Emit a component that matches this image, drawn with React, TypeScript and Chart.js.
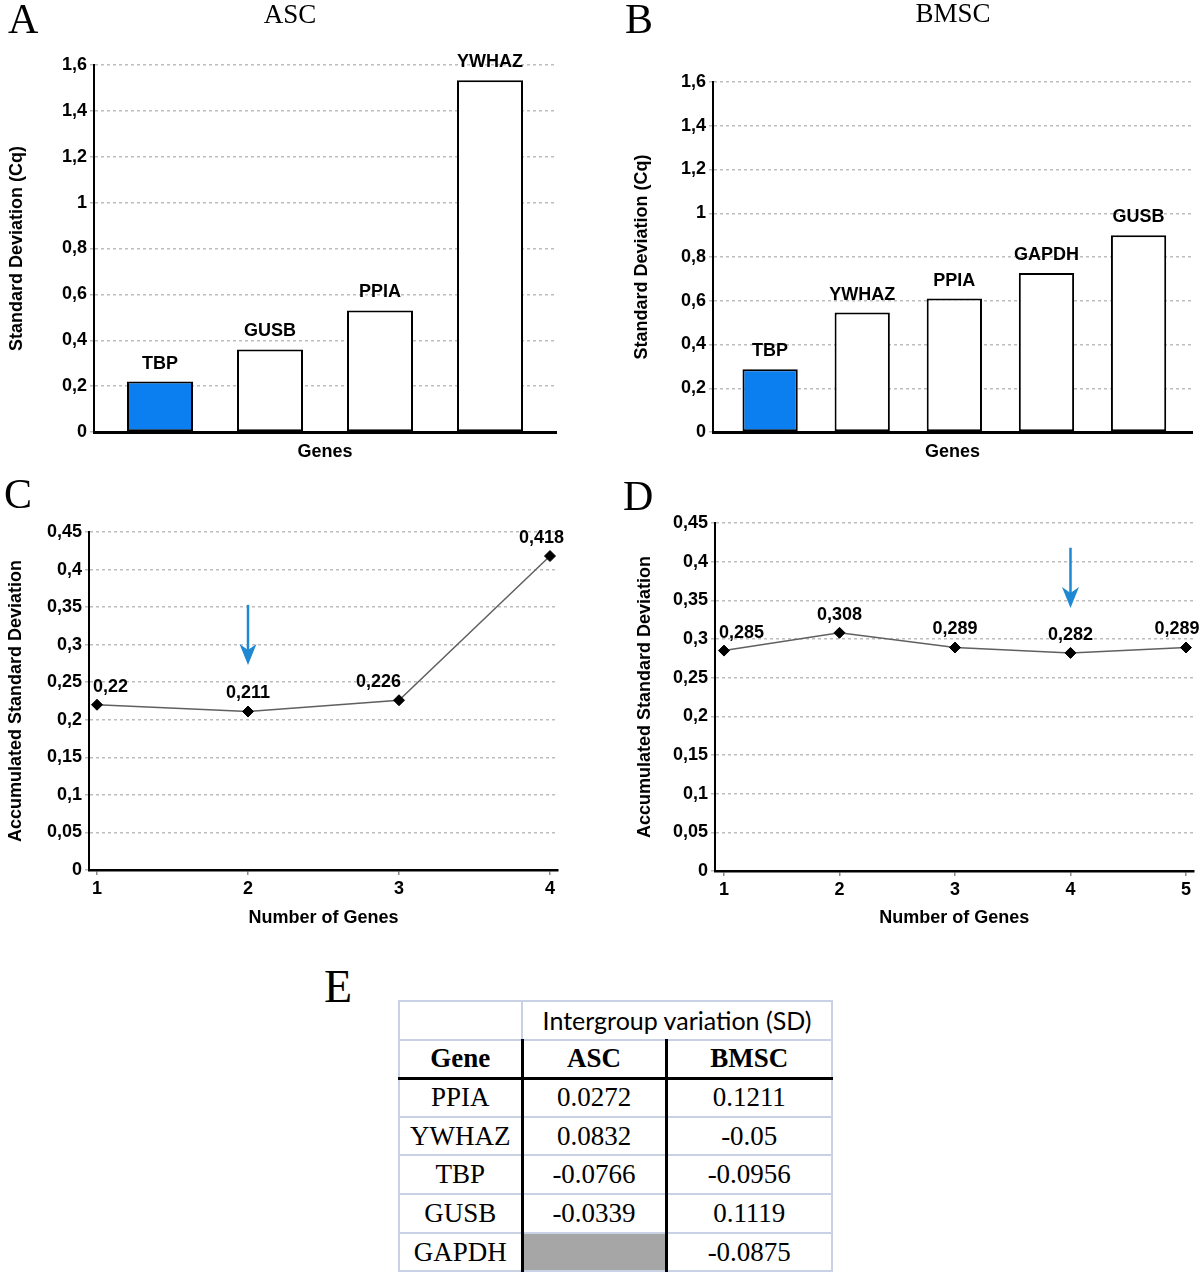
import React, { useEffect, useRef } from 'react';
import { Chart, registerables } from 'chart.js';

Chart.register(...registerables);

// ---------- DATA ----------
const ascGenes = ['TBP', 'GUSB', 'PPIA', 'YWHAZ'];
const ascSD = [0.22, 0.36, 0.53, 1.533];
const bmscGenes = ['TBP', 'YWHAZ', 'PPIA', 'GAPDH', 'GUSB'];
const bmscSD = [0.287, 0.546, 0.61, 0.727, 0.9];
const highlightGene = 'TBP';

const sdTickValues = [0, 0.2, 0.4, 0.6, 0.8, 1, 1.2, 1.4, 1.6];
const sdTickLabels = ['0', '0,2', '0,4', '0,6', '0,8', '1', '1,2', '1,4', '1,6'];

const ascNumGenes = [1, 2, 3, 4];
const ascAccSD = [0.22, 0.211, 0.226, 0.418];
const bmscNumGenes = [1, 2, 3, 4, 5];
const bmscAccSD = [0.285, 0.308, 0.289, 0.282, 0.289];

const accTickValues = [0, 0.05, 0.1, 0.15, 0.2, 0.25, 0.3, 0.35, 0.4, 0.45];
const accTickLabels = ['0', '0,05', '0,1', '0,15', '0,2', '0,25', '0,3', '0,35', '0,4', '0,45'];

// arrows marking the optimal number of genes: [numGenes, fromValue, toValue]
const ascArrow = [2, 0.353, 0.273];
const bmscArrow = [4, 0.418, 0.34];

const tableGenes = ['PPIA', 'YWHAZ', 'TBP', 'GUSB', 'GAPDH'];
const tableASC = ['0.0272', '0.0832', '-0.0766', '-0.0339', null];
const tableBMSC = ['0.1211', '-0.05', '-0.0956', '0.1119', '-0.0875'];

// ---------- STYLE ----------
const SANS = "'Liberation Sans', Arial, sans-serif";
const SERIF = "'Liberation Serif', 'Times New Roman', serif";
const BLUE = '#0b7ff0';
const ARROW = '#1e88d2';
const GRID = '#bdbdbd';
const TICK_FONT = { family: SANS, size: 18, weight: 'bold' as const };
const TITLE_FONT = { family: SANS, size: 18, weight: 'bold' as const };
const LABEL_FONT = `bold 18px ${SANS}`;

const fmt = (v: number) => String(v).replace('.', ',');

const barLabelPlugin = (genes: string[]) => ({
  id: 'barLabels',
  afterDatasetsDraw(chart: any) {
    const ctx = chart.ctx;
    const meta = chart.getDatasetMeta(0);
    ctx.save();
    ctx.font = LABEL_FONT;
    ctx.fillStyle = '#000';
    ctx.textAlign = 'center';
    ctx.textBaseline = 'middle';
    meta.data.forEach((bar: any, i: number) => {
      ctx.fillText(genes[i], bar.x, bar.y - 18);
    });
    ctx.restore();
  },
});

const lineLabelPlugin = (values: number[]) => ({
  id: 'lineLabels',
  afterDatasetsDraw(chart: any) {
    const ctx = chart.ctx;
    const meta = chart.getDatasetMeta(0);
    const area = chart.chartArea;
    ctx.save();
    ctx.font = LABEL_FONT;
    ctx.fillStyle = '#000';
    ctx.textAlign = 'left';
    ctx.textBaseline = 'middle';
    meta.data.forEach((pt: any, i: number) => {
      const text = fmt(values[i]);
      const w = ctx.measureText(text).width;
      let left = pt.x - w / 2;
      const next = meta.data[i + 1];
      if (next && pt.y - next.y > 40) left = pt.x + 2 - w;
      left = Math.max(left, area.left + 4);
      left = Math.min(left, area.right + 6 - w);
      ctx.fillText(text, left, pt.y - 18);
    });
    ctx.restore();
  },
});

const arrowPlugin = (arrow: number[]) => ({
  id: 'arrow',
  afterDatasetsDraw(chart: any) {
    const { ctx, scales } = chart;
    const px = scales.x.getPixelForValue(arrow[0]);
    const y1 = scales.y.getPixelForValue(arrow[1]);
    const y2 = scales.y.getPixelForValue(arrow[2]);
    const headH = 21;
    const headW = 8.5;
    ctx.save();
    ctx.strokeStyle = ARROW;
    ctx.fillStyle = ARROW;
    ctx.lineWidth = 2.5;
    ctx.beginPath();
    ctx.moveTo(px, y1);
    ctx.lineTo(px, y2 - headH + 6);
    ctx.stroke();
    ctx.beginPath();
    ctx.moveTo(px, y2);
    ctx.lineTo(px - headW, y2 - headH);
    ctx.lineTo(px, y2 - headH + 6);
    ctx.lineTo(px + headW, y2 - headH);
    ctx.closePath();
    ctx.fill();
    ctx.restore();
  },
});

type Geo = {
  padTop: number; padRight: number; yWidth: number; xHeight: number;
  yTitlePad: number; xTitlePad: number; xMin: number; xMax: number;
};

function yAxis(tickValues: number[], tickLabels: string[], max: number, title: string, g: Geo) {
  return {
    min: 0,
    max,
    afterBuildTicks: (s: any) => { s.ticks = tickValues.map((v) => ({ value: v })); },
    afterFit: (s: any) => { s.width = g.yWidth; },
    ticks: { callback: (_v: any, i: number) => tickLabels[i], font: TICK_FONT, color: '#000', padding: 3 },
    grid: { color: GRID, lineWidth: 1.5, tickLength: 4 },
    border: { display: true, color: '#000', width: 2, dash: [3, 3] },
    title: { display: true, text: title, font: TITLE_FONT, color: '#000', padding: { top: g.yTitlePad, bottom: 0 } },
  };
}

function barConfig(genes: string[], values: number[], g: Geo): any {
  const xs = genes.map((_n, i) => i + 1);
  return {
    type: 'bar',
    data: {
      datasets: [{
        data: xs.map((x, i) => ({ x, y: values[i] })),
        backgroundColor: genes.map((n) => (n === highlightGene ? BLUE : '#ffffff')),
        borderColor: '#000',
        borderWidth: 2,
        borderSkipped: false,
        barPercentage: 0.6,
        categoryPercentage: 1,
      }],
    },
    options: {
      responsive: false,
      maintainAspectRatio: false,
      animation: false,
      layout: { padding: { left: 0, right: g.padRight, top: g.padTop, bottom: 0 } },
      plugins: { legend: { display: false }, tooltip: { enabled: false } },
      scales: {
        x: {
          type: 'linear', min: g.xMin, max: g.xMax, offset: false,
          afterBuildTicks: (s: any) => { s.ticks = xs.map((v) => ({ value: v })); },
          afterFit: (s: any) => { s.height = g.xHeight; },
          grid: { display: false },
          ticks: { display: false },
          border: { display: true, color: '#000', width: 3 },
          title: { display: true, text: 'Genes', font: TITLE_FONT, color: '#000', padding: { top: 0, bottom: g.xTitlePad } },
        },
        y: yAxis(sdTickValues, sdTickLabels, 1.6, 'Standard Deviation (Cq)', g),
      },
    },
    plugins: [barLabelPlugin(genes)],
  };
}

function lineConfig(xs: number[], values: number[], arrow: number[], g: Geo): any {
  return {
    type: 'line',
    data: {
      datasets: [{
        data: xs.map((x, i) => ({ x, y: values[i] })),
        borderColor: '#606060',
        borderWidth: 1.5,
        pointStyle: 'rectRot',
        pointRadius: 5.5,
        pointBackgroundColor: '#000',
        pointBorderColor: '#000',
        pointBorderWidth: 1,
        tension: 0,
      }],
    },
    options: {
      responsive: false,
      maintainAspectRatio: false,
      animation: false,
      layout: { padding: { left: 0, right: g.padRight, top: g.padTop, bottom: 0 } },
      plugins: { legend: { display: false }, tooltip: { enabled: false } },
      scales: {
        x: {
          type: 'linear', min: g.xMin, max: g.xMax, offset: false,
          afterBuildTicks: (s: any) => { s.ticks = xs.map((v) => ({ value: v })); },
          afterFit: (s: any) => { s.height = g.xHeight; },
          ticks: { font: TICK_FONT, color: '#000', padding: 3 },
          grid: { display: true, drawOnChartArea: false, drawTicks: true, tickLength: 5, color: '#8a8a8a', lineWidth: 1.5 },
          border: { display: true, color: '#000', width: 2.5 },
          title: { display: true, text: 'Number of Genes', font: TITLE_FONT, color: '#000', padding: { top: 0, bottom: g.xTitlePad } },
        },
        y: yAxis(accTickValues, accTickLabels, 0.45, 'Accumulated Standard Deviation', g),
      },
    },
    plugins: [lineLabelPlugin(values), arrowPlugin(arrow)],
  };
}

function ChartCanvas({ left, top, w, h, config }: { left: number; top: number; w: number; h: number; config: () => any }) {
  const ref = useRef<HTMLCanvasElement>(null);
  useEffect(() => {
    const chart = new Chart(ref.current as HTMLCanvasElement, config());
    return () => chart.destroy();
  }, []);
  return (
    <canvas ref={ref} width={w} height={h}
      style={{ position: 'absolute', left, top, width: w, height: h }} />
  );
}

function Txt({ x, y, size, children, w, bold }: any) {
  const style: React.CSSProperties = {
    position: 'absolute', left: w ? x - w / 2 : x, top: y, width: w || undefined,
    textAlign: w ? 'center' : 'left', fontFamily: SERIF, fontSize: size, lineHeight: `${size}px`,
    fontWeight: bold ? 'bold' : 'normal', color: '#000', whiteSpace: 'nowrap',
  };
  return <div style={style}>{children}</div>;
}

const LIGHT = '2px solid #c8d2e4';
const DARK = '3px solid #000';

function SDTable() {
  const rowH = [39, 38, 39, 38, 39, 39, 38];
  const colW = [123, 144, 166];
  const base: React.CSSProperties = {
    padding: 0, textAlign: 'center', verticalAlign: 'middle', fontFamily: SERIF, fontSize: 27,
    color: '#000', border: LIGHT, lineHeight: 1,
  };
  return (
    <table style={{ position: 'absolute', left: 398, top: 1000, borderCollapse: 'collapse', tableLayout: 'fixed', width: colW.reduce((a, b) => a + b, 0) }}>
      <colgroup>{colW.map((c, i) => <col key={i} style={{ width: c }} />)}</colgroup>
      <tbody>
        <tr style={{ height: rowH[0] }}>
          <td style={base}></td>
          <td colSpan={2} style={{ ...base, fontFamily: "Lato, 'Open Sans', sans-serif", fontSize: 25 }}>Intergroup variation (SD)</td>
        </tr>
        <tr style={{ height: rowH[1] }}>
          <td style={{ ...base, fontWeight: 'bold', borderBottom: DARK, borderRight: DARK }}>Gene</td>
          <td style={{ ...base, fontWeight: 'bold', borderBottom: DARK, borderRight: DARK }}>ASC</td>
          <td style={{ ...base, fontWeight: 'bold', borderBottom: DARK }}>BMSC</td>
        </tr>
        {tableGenes.map((g, i) => (
          <tr key={g} style={{ height: rowH[i + 2] }}>
            <td style={{ ...base, borderRight: DARK }}>{g}</td>
            <td style={{ ...base, borderRight: DARK, background: tableASC[i] === null ? '#a6a6a6' : '#fff' }}>{tableASC[i] ?? ''}</td>
            <td style={base}>{tableBMSC[i]}</td>
          </tr>
        ))}
      </tbody>
    </table>
  );
}

export default function App() {
  const geoA: Geo = { padTop: 65, padRight: 44, yWidth: 94, xHeight: 48, yTitlePad: 6.7, xTitlePad: 17.2, xMin: 0.4, xMax: 4.6 };
  const geoB: Geo = { padTop: 82, padRight: 8, yWidth: 113, xHeight: 48, yTitlePad: 31.2, xTitlePad: 17.2, xMin: 0.38, xMax: 5.58 };
  const geoC: Geo = { padTop: 52, padRight: 42, yWidth: 89, xHeight: 70, yTitlePad: 5.7, xTitlePad: 11.2, xMin: 0.947, xMax: 4.053 };
  const geoD: Geo = { padTop: 43, padRight: 6, yWidth: 115, xHeight: 69, yTitlePad: 34.2, xTitlePad: 11.2, xMin: 0.922, xMax: 5.065 };
  Chart.defaults.font.family = SANS;
  return (
    <div style={{ position: 'absolute', left: 0, top: 0, width: 1200, height: 1272, background: '#fff', overflow: 'hidden' }}>
      <ChartCanvas left={0} top={0} w={600} h={480} config={() => barConfig(ascGenes, ascSD, geoA)} />
      <ChartCanvas left={600} top={0} w={600} h={480} config={() => barConfig(bmscGenes, bmscSD, geoB)} />
      <ChartCanvas left={0} top={480} w={600} h={460} config={() => lineConfig(ascNumGenes, ascAccSD, ascArrow, geoC)} />
      <ChartCanvas left={600} top={480} w={600} h={460} config={() => lineConfig(bmscNumGenes, bmscAccSD, bmscArrow, geoD)} />
      <Txt x={8} y={-2} size={42}>A</Txt>
      <Txt x={625} y={-2} size={42}>B</Txt>
      <Txt x={4} y={473} size={42}>C</Txt>
      <Txt x={623} y={475} size={42}>D</Txt>
      <Txt x={324} y={964} size={46}>E</Txt>
      <Txt x={290} y={1} size={27} w={200}>ASC</Txt>
      <Txt x={953} y={0} size={27} w={200}>BMSC</Txt>
      <SDTable />
    </div>
  );
}
